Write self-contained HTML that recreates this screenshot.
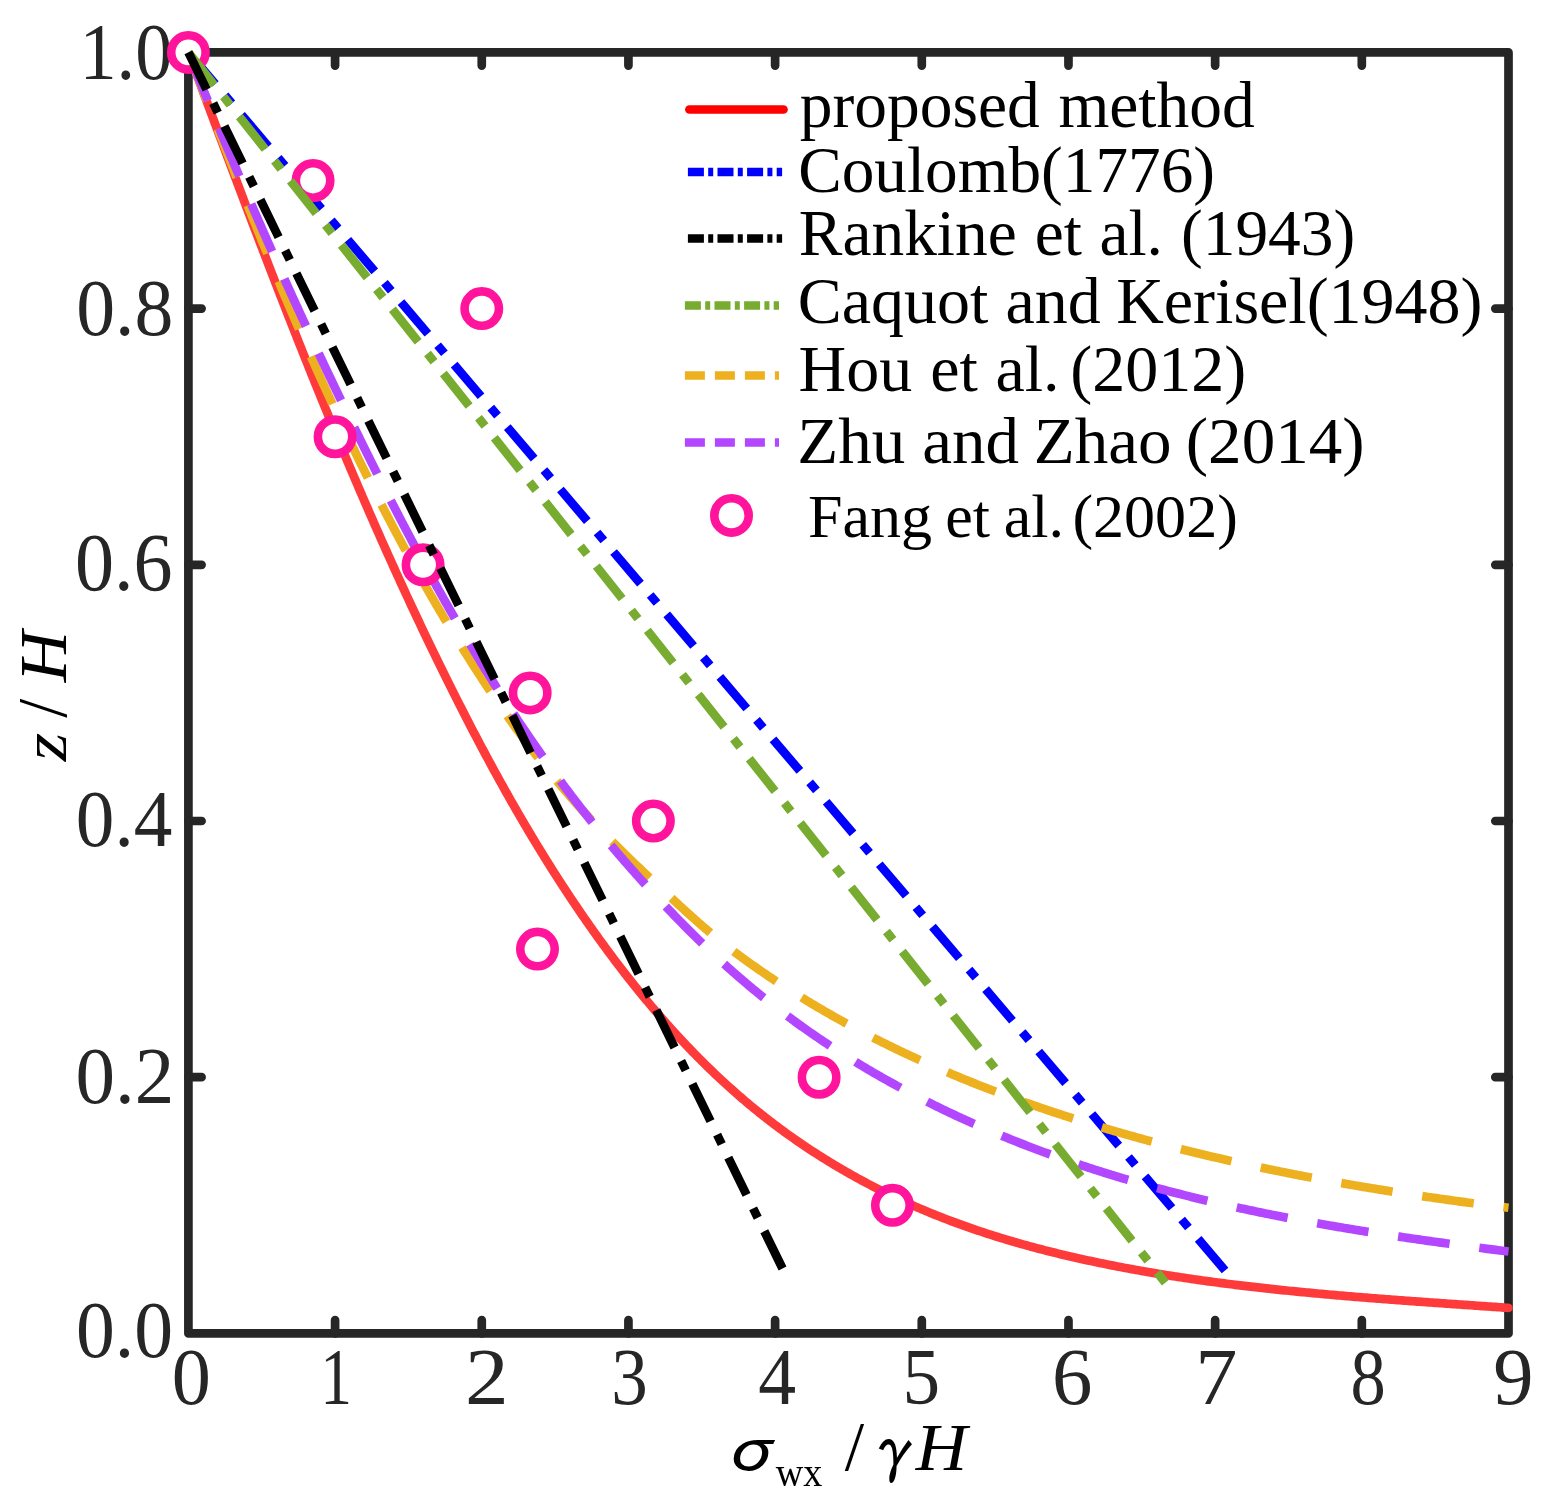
<!DOCTYPE html><html><head><meta charset="utf-8"><title>plot</title><style>html,body{margin:0;padding:0;background:#fff;}svg{display:block;}</style></head><body>
<svg width="1554" height="1510" viewBox="0 0 1554 1510">
<rect width="100%" height="100%" fill="#fff"/>
<g fill="none" stroke="#262626" stroke-width="8.7" stroke-linecap="round" stroke-linejoin="round">
<rect x="188.4" y="52.4" width="1320.1" height="1281.0"/>
<path d="M335.08 1333.40V1320.20M335.08 52.40V65.60M481.76 1333.40V1320.20M481.76 52.40V65.60M628.43 1333.40V1320.20M628.43 52.40V65.60M775.11 1333.40V1320.20M775.11 52.40V65.60M921.79 1333.40V1320.20M921.79 52.40V65.60M1068.47 1333.40V1320.20M1068.47 52.40V65.60M1215.14 1333.40V1320.20M1215.14 52.40V65.60M1361.82 1333.40V1320.20M1361.82 52.40V65.60M188.40 1077.20H201.60M1508.50 1077.20H1495.30M188.40 821.00H201.60M1508.50 821.00H1495.30M188.40 564.80H201.60M1508.50 564.80H1495.30M188.40 308.60H201.60M1508.50 308.60H1495.30"/>
</g>
<text font-family="'Liberation Serif','Times New Roman',serif" font-size="78" fill="#262626" transform="translate(171.79 1404.00) scale(1.0030 1.0300)">0</text>
<text font-family="'Liberation Serif','Times New Roman',serif" font-size="78" fill="#262626" transform="translate(320.30 1404.00) scale(0.8145 1.0300)">1</text>
<text font-family="'Liberation Serif','Times New Roman',serif" font-size="78" fill="#262626" transform="translate(465.08 1404.00) scale(1.1200 1.0300)">2</text>
<text font-family="'Liberation Serif','Times New Roman',serif" font-size="78" fill="#262626" transform="translate(611.19 1404.00) scale(0.9364 1.0300)">3</text>
<text font-family="'Liberation Serif','Times New Roman',serif" font-size="78" fill="#262626" transform="translate(758.24 1404.00) scale(0.9710 1.0300)">4</text>
<text font-family="'Liberation Serif','Times New Roman',serif" font-size="78" fill="#262626" transform="translate(902.56 1404.00) scale(0.9651 1.0300)">5</text>
<text font-family="'Liberation Serif','Times New Roman',serif" font-size="78" fill="#262626" transform="translate(1051.93 1404.00) scale(1.0358 1.0300)">6</text>
<text font-family="'Liberation Serif','Times New Roman',serif" font-size="78" fill="#262626" transform="translate(1195.33 1404.00) scale(1.0794 1.0300)">7</text>
<text font-family="'Liberation Serif','Times New Roman',serif" font-size="78" fill="#262626" transform="translate(1350.39 1404.00) scale(0.9030 1.0300)">8</text>
<text font-family="'Liberation Serif','Times New Roman',serif" font-size="78" fill="#262626" transform="translate(1493.22 1404.00) scale(1.0316 1.0300)">9</text>
<text font-family="'Liberation Serif','Times New Roman',serif" font-size="78" fill="#262626" transform="translate(75.91 1356.97) scale(0.9956 1.0256)">0.0</text>
<text font-family="'Liberation Serif','Times New Roman',serif" font-size="78" fill="#262626" transform="translate(75.56 1103.38) scale(1.0139 1.0180)">0.2</text>
<text font-family="'Liberation Serif','Times New Roman',serif" font-size="78" fill="#262626" transform="translate(75.83 845.78) scale(0.9898 1.0237)">0.4</text>
<text font-family="'Liberation Serif','Times New Roman',serif" font-size="78" fill="#262626" transform="translate(75.00 590.14) scale(1.0016 1.0597)">0.6</text>
<text font-family="'Liberation Serif','Times New Roman',serif" font-size="78" fill="#262626" transform="translate(76.21 335.16) scale(0.9967 1.0389)">0.8</text>
<text font-family="'Liberation Serif','Times New Roman',serif" font-size="78" fill="#262626" transform="translate(79.47 78.88) scale(0.9527 1.0237)">1.0</text>
<text font-family="'IPAGothic','DejaVu Serif',serif" font-size="66" font-style="normal" fill="#000" transform="translate(713.24 1472.83) scale(1.1528 0.9147)">σ</text>
<text font-family="'Liberation Serif','Times New Roman',serif" font-size="40" font-style="normal" fill="#000" transform="translate(775.70 1485.71) scale(0.9546 0.9789)">wx</text>
<text font-family="'Liberation Serif','Times New Roman',serif" font-size="66" font-style="normal" fill="#000" transform="translate(844.70 1470.20) scale(1.0575 1.0689)">/</text>
<text font-family="'IPAGothic','DejaVu Serif',serif" font-size="66" font-style="normal" fill="#000" transform="translate(867.58 1477.27) scale(0.8462 1.0548)">γ</text>
<text font-family="'Liberation Serif','Times New Roman',serif" font-size="66" font-style="italic" fill="#000" transform="translate(915.71 1469.90) scale(1.0771 1.0173)">H</text>
<text font-family="'Liberation Serif','Times New Roman',serif" font-size="66" font-style="italic" fill="#000" transform="translate(66.10 761.17) rotate(-90) scale(1.1098 0.9686)">z</text>
<text font-family="'Liberation Serif','Times New Roman',serif" font-size="66" font-style="normal" fill="#000" transform="translate(66.30 717.80) rotate(-90) scale(1.0301 1.0667)">/</text>
<text font-family="'Liberation Serif','Times New Roman',serif" font-size="66" font-style="italic" fill="#000" transform="translate(66.10 682.29) rotate(-90) scale(1.0771 1.0220)">H</text>
<path d="M188.40 52.40L189.18 54.49L189.96 56.58L190.74 58.67L191.52 60.76L192.30 62.85L193.08 64.94L193.86 67.03L194.64 69.12L195.42 71.21L196.21 73.30L196.99 75.39L197.77 77.48L198.55 79.57L199.33 81.66L200.11 83.75L200.89 85.84L201.67 87.93L202.45 90.02L203.23 92.11L204.01 94.20L204.79 96.29L205.57 98.38L206.35 100.47L207.14 102.56L207.92 104.65L208.70 106.74L209.48 108.83L210.26 110.92L211.04 113.01L211.82 115.10L212.61 117.18L213.39 119.27L214.17 121.36L214.95 123.45L215.73 125.54L216.52 127.63L217.30 129.72L218.08 131.81L218.86 133.89L219.65 135.98L220.43 138.07L221.21 140.16L222.00 142.25L222.78 144.34L223.56 146.42L224.35 148.51L225.13 150.60L225.91 152.69L226.70 154.77L227.48 156.86L228.27 158.95L229.05 161.04L229.84 163.12L230.62 165.21L231.41 167.30L232.20 169.38L232.98 171.47L233.77 173.56L234.55 175.64L235.34 177.73L236.13 179.81L236.92 181.90L237.70 183.99L238.49 186.07L239.28 188.16L240.07 190.24L240.86 192.33L241.65 194.41L242.44 196.50L243.22 198.58L244.01 200.67L244.80 202.75L245.60 204.84L246.39 206.92L247.18 209.01L247.97 211.09L248.76 213.17L249.55 215.26L250.34 217.34L251.14 219.42L251.93 221.51L252.72 223.59L253.52 225.67L254.31 227.76L255.11 229.84L255.90 231.92L256.70 234.00L257.49 236.08L258.29 238.17L259.08 240.25L259.88 242.33L260.68 244.41L261.48 246.49L262.27 248.57L263.07 250.65L263.87 252.73L264.67 254.81L265.47 256.89L266.27 258.97L267.07 261.05L267.87 263.13L268.67 265.21L269.47 267.29L270.28 269.37L271.08 271.45L271.88 273.53L272.69 275.60L273.49 277.68L274.30 279.76L275.10 281.84L275.91 283.92L276.71 285.99L277.52 288.07L278.33 290.15L279.13 292.22L279.94 294.30L280.75 296.38L281.56 298.45L282.37 300.53L283.18 302.60L283.99 304.68L284.80 306.75L285.61 308.83L286.43 310.90L287.24 312.97L288.05 315.05L288.87 317.12L289.68 319.19L290.50 321.27L291.31 323.34L292.13 325.41L292.95 327.49L293.76 329.56L294.58 331.63L295.40 333.70L296.22 335.77L297.04 337.84L297.86 339.91L298.68 341.98L299.50 344.05L300.33 346.12L301.15 348.19L301.97 350.26L302.80 352.33L303.62 354.40L304.45 356.47L305.27 358.54L306.10 360.61L306.93 362.67L307.76 364.74L308.59 366.81L309.42 368.87L310.25 370.94L311.08 373.01L311.91 375.07L312.74 377.14L313.58 379.20L314.41 381.27L315.24 383.33L316.08 385.40L316.92 387.46L317.75 389.52L318.59 391.59L319.43 393.65L320.27 395.71L321.11 397.77L321.95 399.84L322.79 401.90L323.63 403.96L324.48 406.02L325.32 408.08L326.16 410.14L327.01 412.20L327.86 414.26L328.70 416.32L329.55 418.38L330.40 420.44L331.25 422.50L332.10 424.55L332.95 426.61L333.80 428.67L334.65 430.73L335.51 432.78L336.36 434.84L337.22 436.89L338.07 438.95L338.93 441.00L339.79 443.06L340.64 445.11L341.50 447.17L342.36 449.22L343.22 451.27L344.09 453.33L344.95 455.38L345.81 457.43L346.68 459.48L347.54 461.53L348.41 463.59L349.28 465.64L350.15 467.69L351.01 469.74L351.89 471.78L352.76 473.83L353.63 475.88L354.50 477.93L355.37 479.98L356.25 482.03L357.13 484.07L358.00 486.12L358.88 488.17L359.76 490.21L360.64 492.26L361.52 494.30L362.40 496.35L363.28 498.39L364.17 500.43L365.05 502.48L365.94 504.52L366.82 506.56L367.71 508.60L368.60 510.65L369.49 512.69L370.38 514.73L371.27 516.77L372.16 518.81L373.06 520.85L373.95 522.89L374.85 524.92L375.75 526.96L376.64 529.00L377.54 531.04L378.44 533.07L379.34 535.11L380.25 537.15L381.15 539.18L382.05 541.22L382.96 543.25L383.87 545.28L384.77 547.32L385.68 549.35L386.59 551.38L387.50 553.42L388.42 555.45L389.33 557.48L390.24 559.51L391.16 561.54L392.08 563.57L392.99 565.60L393.91 567.63L394.83 569.65L395.75 571.68L396.68 573.71L397.60 575.74L398.52 577.76L399.45 579.79L400.38 581.81L401.31 583.84L402.24 585.86L403.17 587.89L404.10 589.91L405.03 591.93L405.97 593.96L406.90 595.98L407.84 598.00L408.78 600.02L409.72 602.04L410.66 604.06L411.60 606.08L412.54 608.10L413.48 610.12L414.43 612.13L415.38 614.15L416.32 616.17L417.27 618.18L418.22 620.20L419.18 622.21L420.13 624.23L421.08 626.24L422.04 628.26L423.00 630.27L423.95 632.28L424.91 634.29L425.88 636.31L426.84 638.32L427.80 640.33L428.77 642.34L429.73 644.34L430.70 646.35L431.67 648.36L432.64 650.37L433.61 652.38L434.58 654.38L435.56 656.39L436.53 658.39L437.51 660.40L438.49 662.40L439.47 664.40L440.45 666.41L441.43 668.41L442.42 670.41L443.40 672.41L444.39 674.41L445.38 676.41L446.37 678.41L447.36 680.41L448.35 682.41L449.34 684.41L450.34 686.40L451.34 688.40L452.33 690.40L453.33 692.39L454.33 694.39L455.34 696.38L456.34 698.37L457.35 700.37L458.35 702.36L459.36 704.35L460.37 706.34L461.39 708.33L462.40 710.32L463.42 712.30L464.43 714.29L465.45 716.28L466.47 718.26L467.49 720.25L468.52 722.23L469.54 724.21L470.57 726.20L471.60 728.18L472.63 730.16L473.66 732.14L474.70 734.12L475.73 736.09L476.77 738.07L477.81 740.05L478.85 742.02L479.90 744.00L480.94 745.97L481.99 747.94L483.04 749.91L484.09 751.88L485.14 753.85L486.20 755.82L487.25 757.79L488.31 759.75L489.37 761.72L490.43 763.68L491.50 765.64L492.57 767.61L493.63 769.57L494.71 771.53L495.78 773.48L496.85 775.44L497.93 777.40L499.01 779.35L500.09 781.31L501.17 783.26L502.26 785.21L503.35 787.16L504.44 789.11L505.53 791.06L506.62 793.00L507.72 794.95L508.82 796.89L509.92 798.83L511.02 800.78L512.13 802.71L513.23 804.65L514.34 806.59L515.46 808.53L516.57 810.46L517.69 812.39L518.81 814.33L519.93 816.26L521.05 818.19L522.18 820.11L523.31 822.04L524.44 823.96L525.57 825.89L526.71 827.81L527.84 829.73L528.99 831.65L530.13 833.57L531.27 835.48L532.42 837.40L533.57 839.31L534.73 841.22L535.88 843.13L537.04 845.04L538.20 846.94L539.37 848.85L540.53 850.75L541.70 852.65L542.87 854.55L544.05 856.45L545.22 858.35L546.40 860.25L547.58 862.14L548.77 864.03L549.96 865.92L551.15 867.81L552.34 869.70L553.54 871.58L554.73 873.46L555.94 875.35L557.14 877.23L558.35 879.10L559.56 880.98L560.77 882.85L561.98 884.73L563.20 886.60L564.42 888.47L565.65 890.33L566.88 892.20L568.11 894.06L569.34 895.92L570.57 897.78L571.81 899.64L573.05 901.50L574.30 903.35L575.55 905.20L576.80 907.05L578.05 908.90L579.31 910.74L580.57 912.59L581.83 914.43L583.10 916.27L584.37 918.11L585.64 919.94L586.91 921.78L588.19 923.61L589.47 925.44L590.76 927.27L592.05 929.09L593.34 930.92L594.63 932.74L595.93 934.56L597.23 936.37L598.53 938.19L599.84 940.00L601.15 941.81L602.46 943.62L603.78 945.43L605.10 947.23L606.43 949.03L607.75 950.83L609.08 952.63L610.42 954.42L611.75 956.21L613.10 958.00L614.44 959.79L615.79 961.57L617.14 963.36L618.49 965.14L619.85 966.91L621.21 968.69L622.58 970.46L623.94 972.23L625.32 973.99L626.69 975.75L628.07 977.51L629.45 979.27L630.84 981.02L632.23 982.78L633.62 984.52L635.02 986.27L636.42 988.01L637.82 989.75L639.23 991.49L640.64 993.22L642.06 994.95L643.48 996.67L644.90 998.40L646.33 1000.12L647.76 1001.83L649.19 1003.55L650.63 1005.26L652.07 1006.96L653.51 1008.66L654.96 1010.36L656.41 1012.06L657.87 1013.75L659.33 1015.44L660.80 1017.12L662.26 1018.81L663.74 1020.48L665.21 1022.16L666.69 1023.83L668.18 1025.49L669.66 1027.15L671.16 1028.81L672.65 1030.47L674.15 1032.12L675.65 1033.76L677.16 1035.41L678.67 1037.04L680.19 1038.68L681.71 1040.31L683.23 1041.93L684.76 1043.55L686.29 1045.17L687.83 1046.79L689.37 1048.39L690.91 1050.00L692.46 1051.60L694.02 1053.19L695.57 1054.79L697.13 1056.37L698.70 1057.95L700.27 1059.53L701.84 1061.10L703.42 1062.67L705.00 1064.24L706.59 1065.80L708.18 1067.35L709.77 1068.90L711.37 1070.44L712.98 1071.98L714.59 1073.52L716.20 1075.05L717.82 1076.57L719.44 1078.09L721.06 1079.61L722.69 1081.12L724.33 1082.63L725.97 1084.13L727.61 1085.62L729.26 1087.11L730.91 1088.59L732.57 1090.07L734.23 1091.55L735.89 1093.02L737.56 1094.48L739.24 1095.94L740.92 1097.39L742.60 1098.84L744.29 1100.28L745.98 1101.72L747.68 1103.15L749.38 1104.57L751.09 1105.99L752.80 1107.40L754.52 1108.81L756.24 1110.21L757.97 1111.61L759.70 1113.00L761.43 1114.39L763.17 1115.76L764.92 1117.14L766.67 1118.50L768.42 1119.87L770.18 1121.22L771.94 1122.57L773.71 1123.91L775.48 1125.25L777.26 1126.58L779.04 1127.91L780.82 1129.23L782.61 1130.55L784.41 1131.85L786.21 1133.16L788.01 1134.45L789.82 1135.74L791.63 1137.03L793.45 1138.31L795.27 1139.58L797.09 1140.85L798.92 1142.11L800.76 1143.36L802.59 1144.61L804.43 1145.85L806.28 1147.09L808.13 1148.32L809.98 1149.55L811.84 1150.77L813.70 1151.98L815.57 1153.19L817.44 1154.39L819.31 1155.58L821.19 1156.77L823.07 1157.95L824.96 1159.13L826.85 1160.30L828.74 1161.46L830.64 1162.62L832.54 1163.78L834.45 1164.92L836.36 1166.06L838.27 1167.20L840.18 1168.32L842.10 1169.45L844.03 1170.56L845.95 1171.67L847.89 1172.78L849.82 1173.87L851.76 1174.96L853.70 1176.05L855.64 1177.13L857.59 1178.20L859.54 1179.27L861.50 1180.33L863.46 1181.38L865.42 1182.43L867.38 1183.47L869.35 1184.51L871.33 1185.54L873.30 1186.56L875.28 1187.58L877.26 1188.59L879.25 1189.60L881.24 1190.60L883.23 1191.59L885.22 1192.57L887.22 1193.55L889.22 1194.53L891.22 1195.50L893.23 1196.46L895.24 1197.41L897.25 1198.36L899.27 1199.30L901.29 1200.24L903.31 1201.17L905.34 1202.09L907.36 1203.01L909.40 1203.92L911.43 1204.83L913.47 1205.72L915.50 1206.62L917.55 1207.50L919.59 1208.38L921.64 1209.25L923.69 1210.12L925.74 1210.98L927.80 1211.84L929.85 1212.68L931.92 1213.53L933.98 1214.36L936.04 1215.19L938.11 1216.01L940.18 1216.83L942.26 1217.64L944.33 1218.45L946.41 1219.25L948.49 1220.04L950.57 1220.83L952.66 1221.61L954.75 1222.39L956.84 1223.16L958.93 1223.92L961.02 1224.68L963.12 1225.43L965.22 1226.18L967.32 1226.92L969.43 1227.66L971.53 1228.39L973.64 1229.11L975.75 1229.83L977.86 1230.54L979.97 1231.25L982.09 1231.95L984.21 1232.65L986.33 1233.34L988.45 1234.03L990.57 1234.71L992.70 1235.39L994.83 1236.06L996.96 1236.72L999.09 1237.38L1001.22 1238.04L1003.36 1238.69L1005.49 1239.34L1007.63 1239.98L1009.77 1240.61L1011.92 1241.24L1014.06 1241.87L1016.20 1242.49L1018.35 1243.10L1020.50 1243.71L1022.65 1244.32L1024.80 1244.92L1026.95 1245.51L1029.11 1246.10L1031.27 1246.69L1033.42 1247.27L1035.58 1247.85L1037.74 1248.42L1039.90 1248.99L1042.07 1249.55L1044.23 1250.11L1046.40 1250.67L1048.56 1251.22L1050.73 1251.76L1052.90 1252.31L1055.07 1252.84L1057.25 1253.37L1059.42 1253.90L1061.59 1254.43L1063.77 1254.95L1065.95 1255.46L1068.12 1255.97L1070.30 1256.48L1072.48 1256.98L1074.66 1257.48L1076.84 1257.98L1079.03 1258.47L1081.21 1258.96L1083.40 1259.44L1085.58 1259.92L1087.77 1260.39L1089.95 1260.87L1092.14 1261.33L1094.33 1261.80L1096.52 1262.26L1098.71 1262.71L1100.90 1263.17L1103.09 1263.61L1105.29 1264.06L1107.48 1264.50L1109.67 1264.94L1111.87 1265.37L1114.06 1265.81L1116.26 1266.23L1118.45 1266.66L1120.65 1267.08L1122.85 1267.50L1125.04 1267.91L1127.24 1268.32L1129.44 1268.73L1131.64 1269.13L1133.84 1269.53L1136.04 1269.93L1138.24 1270.32L1140.44 1270.72L1142.64 1271.10L1144.84 1271.49L1147.04 1271.87L1149.24 1272.25L1151.45 1272.62L1153.65 1273.00L1155.85 1273.37L1158.06 1273.73L1160.26 1274.10L1162.46 1274.46L1164.67 1274.81L1166.87 1275.17L1169.08 1275.52L1171.29 1275.87L1173.49 1276.21L1175.70 1276.56L1177.91 1276.90L1180.11 1277.23L1182.32 1277.57L1184.53 1277.90L1186.74 1278.23L1188.95 1278.55L1191.16 1278.88L1193.37 1279.20L1195.58 1279.52L1197.79 1279.83L1200.00 1280.14L1202.21 1280.45L1204.42 1280.76L1206.63 1281.07L1208.84 1281.37L1211.05 1281.67L1213.27 1281.97L1215.48 1282.26L1217.69 1282.56L1219.90 1282.85L1222.12 1283.13L1224.33 1283.42L1226.55 1283.70L1228.76 1283.98L1230.97 1284.26L1233.19 1284.54L1235.40 1284.81L1237.62 1285.08L1239.83 1285.35L1242.05 1285.62L1244.27 1285.88L1246.48 1286.14L1248.70 1286.41L1250.92 1286.66L1253.13 1286.92L1255.35 1287.17L1257.57 1287.43L1259.78 1287.68L1262.00 1287.92L1264.22 1288.17L1266.44 1288.41L1268.66 1288.66L1270.87 1288.90L1273.09 1289.13L1275.31 1289.37L1277.53 1289.61L1279.75 1289.84L1281.97 1290.07L1284.19 1290.30L1286.41 1290.53L1288.63 1290.75L1290.85 1290.97L1293.07 1291.20L1295.29 1291.42L1297.51 1291.64L1299.73 1291.85L1301.95 1292.07L1304.17 1292.28L1306.39 1292.49L1308.61 1292.70L1310.83 1292.91L1313.05 1293.12L1315.27 1293.33L1317.49 1293.53L1319.72 1293.73L1321.94 1293.93L1324.16 1294.13L1326.38 1294.33L1328.60 1294.53L1330.82 1294.73L1333.04 1294.92L1335.27 1295.11L1337.49 1295.31L1339.71 1295.50L1341.93 1295.69L1344.15 1295.87L1346.38 1296.06L1348.60 1296.25L1350.82 1296.43L1353.04 1296.62L1355.26 1296.80L1357.49 1296.98L1359.71 1297.16L1361.93 1297.34L1364.15 1297.52L1366.38 1297.69L1368.60 1297.87L1370.82 1298.05L1373.04 1298.22L1375.26 1298.39L1377.49 1298.57L1379.71 1298.74L1381.93 1298.91L1384.15 1299.08L1386.37 1299.25L1388.60 1299.41L1390.82 1299.58L1393.04 1299.75L1395.26 1299.91L1397.48 1300.08L1399.70 1300.24L1401.93 1300.41L1404.15 1300.57L1406.37 1300.73L1408.59 1300.90L1410.81 1301.06L1413.03 1301.22L1415.25 1301.38L1417.48 1301.54L1419.70 1301.70L1421.92 1301.86L1424.14 1302.01L1426.36 1302.17L1428.58 1302.33L1430.80 1302.49L1433.02 1302.64L1435.24 1302.80L1437.46 1302.95L1439.68 1303.11L1441.90 1303.27L1444.12 1303.42L1446.34 1303.58L1448.56 1303.73L1450.78 1303.88L1452.99 1304.04L1455.21 1304.19L1457.43 1304.35L1459.65 1304.50L1461.87 1304.65L1464.09 1304.81L1466.30 1304.96L1468.52 1305.12L1470.74 1305.27L1472.96 1305.42L1475.17 1305.58L1477.39 1305.73L1479.61 1305.88L1481.82 1306.04L1484.04 1306.19L1486.25 1306.35L1488.47 1306.50L1490.69 1306.65L1492.90 1306.81L1495.12 1306.96L1497.33 1307.12L1499.54 1307.28L1501.76 1307.43L1503.97 1307.59L1506.19 1307.74L1508.40 1307.90" fill="none" stroke="#ff3a3a" stroke-width="8.7" stroke-linecap="round" stroke-linejoin="round"/>
<path d="M188.40 52.40L1229.28 1275.43" fill="none" stroke="#0000ff" stroke-width="8.7" stroke-linecap="butt" stroke-linejoin="round" stroke-dasharray="41.5 15 10.5 15"/>
<path d="M188.40 52.40L189.15 54.36L189.90 56.33L190.65 58.29L191.40 60.25L192.15 62.22L192.90 64.18L193.65 66.15L194.40 68.11L195.15 70.07L195.90 72.04L196.65 74.00L197.40 75.96L198.15 77.93L198.90 79.89L199.65 81.86L200.40 83.82L201.16 85.78L201.91 87.75L202.66 89.71L203.41 91.67L204.17 93.64L204.92 95.60L205.67 97.57L206.43 99.53L207.18 101.49L207.94 103.46L208.69 105.42L209.45 107.38L210.20 109.35L210.96 111.31L211.71 113.27L212.47 115.24L213.23 117.20L213.98 119.16L214.74 121.12L215.50 123.09L216.26 125.05L217.02 127.01L217.78 128.97L218.54 130.94L219.30 132.90L220.06 134.86L220.82 136.82L221.58 138.79L222.34 140.75L223.10 142.71L223.87 144.67L224.63 146.63L225.39 148.59L226.16 150.55L226.92 152.52L227.69 154.48L228.45 156.44L229.22 158.40L229.98 160.36L230.75 162.32L231.52 164.28L232.29 166.24L233.06 168.20L233.82 170.16L234.59 172.12L235.36 174.08L236.13 176.03L236.91 177.99L237.68 179.95L238.45 181.91L239.22 183.87L240.00 185.83L240.77 187.78L241.55 189.74L242.32 191.70L243.10 193.66L243.87 195.61L244.65 197.57L245.43 199.53L246.21 201.48L246.99 203.44L247.77 205.39L248.55 207.35L249.33 209.30L250.11 211.26L250.89 213.21L251.68 215.17L252.46 217.12L253.24 219.07L254.03 221.03L254.81 222.98L255.60 224.93L256.39 226.89L257.18 228.84L257.97 230.79L258.76 232.74L259.55 234.69L260.34 236.65L261.13 238.60L261.92 240.55L262.71 242.50L263.51 244.45L264.30 246.40L265.10 248.35L265.90 250.29L266.69 252.24L267.49 254.19L268.29 256.14L269.09 258.09L269.89 260.03L270.69 261.98L271.50 263.93L272.30 265.87L273.10 267.82L273.91 269.76L274.71 271.71L275.52 273.65L276.33 275.60L277.14 277.54L277.95 279.48L278.76 281.43L279.57 283.37L280.38 285.31L281.19 287.25L282.01 289.19L282.82 291.13L283.64 293.07L284.45 295.01L285.27 296.95L286.09 298.89L286.91 300.83L287.73 302.77L288.55 304.71L289.37 306.64L290.20 308.58L291.02 310.52L291.85 312.45L292.68 314.39L293.50 316.32L294.33 318.26L295.16 320.19L295.99 322.13L296.82 324.06L297.66 325.99L298.49 327.92L299.33 329.86L300.16 331.79L301.00 333.72L301.84 335.65L302.68 337.58L303.52 339.51L304.36 341.43L305.20 343.36L306.05 345.29L306.89 347.22L307.74 349.14L308.58 351.07L309.43 352.99L310.28 354.92L311.13 356.84L311.98 358.77L312.84 360.69L313.69 362.61L314.55 364.54L315.40 366.46L316.26 368.38L317.12 370.30L317.98 372.22L318.84 374.14L319.70 376.06L320.57 377.97L321.43 379.89L322.30 381.81L323.17 383.72L324.04 385.64L324.91 387.55L325.78 389.47L326.65 391.38L327.52 393.29L328.40 395.21L329.28 397.12L330.15 399.03L331.03 400.94L331.91 402.85L332.80 404.76L333.68 406.67L334.56 408.58L335.45 410.48L336.34 412.39L337.22 414.30L338.11 416.20L339.01 418.11L339.90 420.01L340.79 421.91L341.69 423.82L342.58 425.72L343.48 427.62L344.38 429.52L345.28 431.42L346.19 433.32L347.09 435.22L347.99 437.11L348.90 439.01L349.81 440.91L350.72 442.80L351.63 444.70L352.54 446.59L353.46 448.48L354.37 450.38L355.29 452.27L356.21 454.16L357.13 456.05L358.05 457.94L358.97 459.83L359.90 461.72L360.82 463.60L361.75 465.49L362.68 467.38L363.61 469.26L364.54 471.15L365.48 473.03L366.41 474.91L367.35 476.79L368.29 478.67L369.23 480.55L370.17 482.43L371.11 484.31L372.06 486.19L373.00 488.07L373.95 489.94L374.90 491.82L375.85 493.69L376.81 495.57L377.76 497.44L378.72 499.31L379.67 501.18L380.63 503.05L381.59 504.92L382.56 506.79L383.52 508.66L384.49 510.53L385.46 512.39L386.43 514.26L387.40 516.12L388.37 517.98L389.35 519.85L390.32 521.71L391.30 523.57L392.28 525.43L393.26 527.29L394.25 529.15L395.23 531.00L396.22 532.86L397.21 534.71L398.20 536.57L399.19 538.42L400.18 540.27L401.18 542.13L402.18 543.98L403.18 545.83L404.18 547.68L405.18 549.52L406.19 551.37L407.19 553.22L408.20 555.06L409.21 556.90L410.23 558.75L411.24 560.59L412.26 562.43L413.27 564.27L414.29 566.11L415.32 567.95L416.34 569.79L417.37 571.62L418.39 573.46L419.42 575.29L420.45 577.12L421.49 578.96L422.52 580.79L423.56 582.62L424.60 584.45L425.64 586.28L426.68 588.10L427.73 589.93L428.78 591.75L429.82 593.58L430.88 595.40L431.93 597.22L432.98 599.04L434.04 600.86L435.10 602.68L436.16 604.50L437.22 606.32L438.29 608.13L439.36 609.95L440.42 611.76L441.50 613.57L442.57 615.38L443.64 617.19L444.72 619.00L445.80 620.81L446.88 622.62L447.97 624.42L449.05 626.23L450.14 628.03L451.23 629.83L452.32 631.64L453.42 633.44L454.51 635.23L455.61 637.03L456.71 638.83L457.82 640.62L458.92 642.42L460.03 644.21L461.14 646.00L462.25 647.79L463.37 649.58L464.48 651.37L465.60 653.15L466.72 654.94L467.85 656.72L468.97 658.50L470.10 660.28L471.23 662.06L472.37 663.84L473.50 665.61L474.64 667.38L475.78 669.16L476.93 670.93L478.07 672.70L479.22 674.46L480.37 676.23L481.52 677.99L482.68 679.76L483.84 681.52L485.00 683.28L486.16 685.04L487.33 686.79L488.50 688.55L489.67 690.30L490.84 692.05L492.02 693.80L493.20 695.54L494.38 697.29L495.56 699.03L496.75 700.77L497.94 702.51L499.13 704.25L500.33 705.99L501.53 707.72L502.73 709.45L503.93 711.18L505.14 712.91L506.35 714.64L507.56 716.36L508.77 718.08L509.99 719.80L511.21 721.52L512.44 723.23L513.66 724.95L514.89 726.66L516.12 728.36L517.36 730.07L518.60 731.77L519.84 733.47L521.08 735.17L522.33 736.86L523.58 738.56L524.83 740.24L526.09 741.93L527.35 743.61L528.61 745.29L529.88 746.97L531.15 748.64L532.42 750.31L533.69 751.97L534.97 753.63L536.25 755.29L537.54 756.95L538.83 758.60L540.12 760.25L541.41 761.89L542.71 763.53L544.01 765.16L545.31 766.80L546.62 768.43L547.93 770.05L549.24 771.67L550.56 773.29L551.88 774.90L553.21 776.52L554.53 778.12L555.87 779.73L557.20 781.33L558.54 782.93L559.88 784.52L561.23 786.12L562.58 787.70L563.93 789.29L565.29 790.87L566.65 792.45L568.01 794.03L569.38 795.60L570.75 797.18L572.13 798.74L573.51 800.31L574.89 801.87L576.28 803.43L577.67 804.99L579.06 806.54L580.46 808.10L581.86 809.65L583.27 811.19L584.68 812.74L586.10 814.28L587.52 815.82L588.94 817.36L590.37 818.89L591.80 820.43L593.24 821.96L594.68 823.49L596.12 825.01L597.57 826.54L599.03 828.06L600.48 829.58L601.95 831.10L603.41 832.62L604.88 834.13L606.36 835.65L607.84 837.16L609.32 838.67L610.81 840.17L612.31 841.68L613.80 843.19L615.31 844.69L616.81 846.19L618.32 847.69L619.84 849.19L621.36 850.68L622.88 852.18L624.40 853.67L625.93 855.16L627.46 856.65L629.00 858.13L630.53 859.62L632.07 861.10L633.61 862.58L635.15 864.06L636.70 865.54L638.24 867.01L639.79 868.48L641.34 869.95L642.89 871.42L644.44 872.88L645.99 874.35L647.54 875.81L649.09 877.26L650.65 878.72L652.20 880.17L653.75 881.62L655.30 883.07L656.85 884.51L658.40 885.96L659.95 887.40L661.49 888.83L663.04 890.27L664.58 891.70L666.12 893.13L667.66 894.55L669.20 895.98L670.73 897.40L672.27 898.81L673.80 900.23L675.32 901.64L676.85 903.05L678.37 904.45L679.90 905.85L681.42 907.25L682.95 908.65L684.47 910.04L685.99 911.43L687.52 912.82L689.05 914.20L690.58 915.58L692.11 916.95L693.64 918.32L695.18 919.69L696.72 921.06L698.27 922.42L699.82 923.78L701.37 925.13L702.93 926.48L704.50 927.83L706.07 929.17L707.65 930.51L709.23 931.85L710.83 933.18L712.43 934.51L714.03 935.83L715.65 937.15L717.27 938.47L718.90 939.78L720.53 941.09L722.17 942.39L723.82 943.70L725.47 944.99L727.13 946.28L728.80 947.57L730.47 948.86L732.14 950.14L733.83 951.42L735.51 952.69L737.21 953.96L738.91 955.22L740.61 956.48L742.32 957.74L744.03 958.99L745.75 960.24L747.47 961.48L749.19 962.72L750.92 963.96L752.66 965.19L754.40 966.42L756.14 967.64L757.88 968.86L759.63 970.07L761.38 971.28L763.14 972.49L764.89 973.69L766.66 974.89L768.42 976.08L770.19 977.27L771.95 978.45L773.73 979.63L775.50 980.81L777.27 981.98L779.05 983.15L780.83 984.31L782.61 985.47L784.39 986.62L786.18 987.77L787.97 988.92L789.75 990.06L791.54 991.19L793.34 992.33L795.13 993.45L796.93 994.58L798.73 995.70L800.53 996.81L802.33 997.92L804.13 999.03L805.94 1000.13L807.74 1001.23L809.55 1002.32L811.36 1003.41L813.18 1004.50L814.99 1005.58L816.81 1006.66L818.62 1007.73L820.44 1008.80L822.27 1009.86L824.09 1010.93L825.91 1011.98L827.74 1013.04L829.57 1014.08L831.40 1015.13L833.23 1016.17L835.07 1017.21L836.90 1018.24L838.74 1019.27L840.58 1020.29L842.42 1021.31L844.26 1022.33L846.11 1023.34L847.95 1024.35L849.80 1025.36L851.65 1026.36L853.50 1027.35L855.35 1028.35L857.21 1029.34L859.06 1030.32L860.92 1031.30L862.78 1032.28L864.64 1033.26L866.50 1034.23L868.37 1035.19L870.23 1036.16L872.10 1037.11L873.97 1038.07L875.84 1039.02L877.71 1039.97L879.59 1040.91L881.46 1041.85L883.34 1042.79L885.22 1043.72L887.10 1044.65L888.98 1045.58L890.86 1046.50L892.75 1047.42L894.63 1048.33L896.52 1049.25L898.41 1050.15L900.30 1051.06L902.19 1051.96L904.09 1052.85L905.98 1053.75L907.88 1054.64L909.78 1055.52L911.68 1056.41L913.58 1057.29L915.48 1058.16L917.39 1059.03L919.29 1059.90L921.20 1060.77L923.11 1061.63L925.02 1062.49L926.93 1063.34L928.84 1064.20L930.76 1065.05L932.67 1065.89L934.59 1066.73L936.51 1067.57L938.43 1068.41L940.35 1069.24L942.27 1070.07L944.20 1070.89L946.12 1071.71L948.05 1072.53L949.98 1073.35L951.91 1074.16L953.84 1074.97L955.77 1075.77L957.70 1076.58L959.64 1077.38L961.58 1078.17L963.51 1078.97L965.45 1079.76L967.39 1080.54L969.33 1081.33L971.28 1082.11L973.22 1082.88L975.17 1083.66L977.11 1084.43L979.06 1085.20L981.01 1085.96L982.96 1086.72L984.91 1087.48L986.87 1088.24L988.82 1088.99L990.78 1089.74L992.73 1090.49L994.69 1091.23L996.65 1091.97L998.61 1092.71L1000.57 1093.45L1002.54 1094.18L1004.50 1094.91L1006.46 1095.63L1008.43 1096.36L1010.40 1097.08L1012.37 1097.79L1014.34 1098.51L1016.31 1099.22L1018.28 1099.93L1020.25 1100.64L1022.23 1101.34L1024.20 1102.04L1026.18 1102.74L1028.16 1103.44L1030.14 1104.13L1032.12 1104.82L1034.10 1105.51L1036.08 1106.20L1038.06 1106.88L1040.05 1107.56L1042.03 1108.24L1044.02 1108.92L1046.01 1109.59L1048.00 1110.26L1049.99 1110.93L1051.98 1111.59L1053.97 1112.26L1055.96 1112.92L1057.96 1113.58L1059.95 1114.23L1061.95 1114.89L1063.94 1115.54L1065.94 1116.18L1067.94 1116.83L1069.94 1117.47L1071.94 1118.11L1073.94 1118.75L1075.95 1119.39L1077.95 1120.02L1079.96 1120.65L1081.96 1121.28L1083.97 1121.91L1085.98 1122.53L1087.98 1123.15L1089.99 1123.77L1092.00 1124.39L1094.02 1125.00L1096.03 1125.61L1098.04 1126.22L1100.06 1126.83L1102.07 1127.43L1104.09 1128.03L1106.10 1128.63L1108.12 1129.23L1110.14 1129.83L1112.16 1130.42L1114.18 1131.01L1116.20 1131.60L1118.22 1132.18L1120.24 1132.76L1122.27 1133.34L1124.29 1133.92L1126.32 1134.50L1128.34 1135.07L1130.37 1135.64L1132.40 1136.21L1134.43 1136.78L1136.46 1137.34L1138.49 1137.91L1140.52 1138.47L1142.55 1139.02L1144.58 1139.58L1146.61 1140.13L1148.65 1140.68L1150.68 1141.23L1152.72 1141.78L1154.75 1142.32L1156.79 1142.86L1158.83 1143.40L1160.87 1143.94L1162.90 1144.47L1164.94 1145.01L1166.98 1145.54L1169.03 1146.07L1171.07 1146.59L1173.11 1147.12L1175.15 1147.64L1177.20 1148.16L1179.24 1148.68L1181.29 1149.19L1183.33 1149.71L1185.38 1150.22L1187.42 1150.73L1189.47 1151.23L1191.52 1151.74L1193.57 1152.24L1195.62 1152.74L1197.67 1153.24L1199.72 1153.74L1201.77 1154.23L1203.82 1154.72L1205.87 1155.21L1207.93 1155.70L1209.98 1156.19L1212.03 1156.67L1214.09 1157.15L1216.14 1157.63L1218.20 1158.11L1220.26 1158.58L1222.31 1159.06L1224.37 1159.53L1226.43 1160.00L1228.49 1160.47L1230.55 1160.93L1232.60 1161.40L1234.66 1161.86L1236.72 1162.32L1238.79 1162.78L1240.85 1163.23L1242.91 1163.69L1244.97 1164.14L1247.03 1164.59L1249.10 1165.03L1251.16 1165.48L1253.22 1165.92L1255.29 1166.37L1257.35 1166.81L1259.42 1167.24L1261.48 1167.68L1263.55 1168.12L1265.62 1168.55L1267.68 1168.98L1269.75 1169.41L1271.82 1169.83L1273.89 1170.26L1275.96 1170.68L1278.02 1171.10L1280.09 1171.52L1282.16 1171.94L1284.23 1172.35L1286.30 1172.77L1288.37 1173.18L1290.44 1173.59L1292.52 1174.00L1294.59 1174.41L1296.66 1174.81L1298.73 1175.21L1300.80 1175.61L1302.88 1176.01L1304.95 1176.41L1307.02 1176.81L1309.10 1177.20L1311.17 1177.59L1313.24 1177.98L1315.32 1178.37L1317.39 1178.76L1319.47 1179.14L1321.54 1179.53L1323.62 1179.91L1325.69 1180.29L1327.77 1180.67L1329.85 1181.04L1331.92 1181.42L1334.00 1181.79L1336.07 1182.16L1338.15 1182.53L1340.23 1182.90L1342.31 1183.27L1344.38 1183.63L1346.46 1184.00L1348.54 1184.36L1350.62 1184.72L1352.69 1185.08L1354.77 1185.43L1356.85 1185.79L1358.93 1186.14L1361.01 1186.49L1363.08 1186.84L1365.16 1187.19L1367.24 1187.54L1369.32 1187.88L1371.40 1188.23L1373.48 1188.57L1375.56 1188.91L1377.64 1189.25L1379.72 1189.59L1381.80 1189.92L1383.87 1190.26L1385.95 1190.59L1388.03 1190.92L1390.11 1191.25L1392.19 1191.58L1394.27 1191.91L1396.35 1192.23L1398.43 1192.56L1400.51 1192.88L1402.59 1193.20L1404.67 1193.52L1406.75 1193.84L1408.83 1194.15L1410.91 1194.47L1412.99 1194.78L1415.07 1195.09L1417.15 1195.40L1419.23 1195.71L1421.30 1196.02L1423.38 1196.33L1425.46 1196.63L1427.54 1196.94L1429.62 1197.24L1431.70 1197.54L1433.78 1197.84L1435.86 1198.14L1437.94 1198.43L1440.01 1198.73L1442.09 1199.02L1444.17 1199.31L1446.25 1199.60L1448.33 1199.89L1450.40 1200.18L1452.48 1200.47L1454.56 1200.75L1456.64 1201.04L1458.71 1201.32L1460.79 1201.60L1462.87 1201.88L1464.94 1202.16L1467.02 1202.44L1469.10 1202.72L1471.17 1202.99L1473.25 1203.27L1475.32 1203.54L1477.40 1203.81L1479.47 1204.08L1481.55 1204.35L1483.62 1204.62L1485.70 1204.88L1487.77 1205.15L1489.85 1205.41L1491.92 1205.68L1493.99 1205.94L1496.07 1206.20L1498.14 1206.46L1500.21 1206.71L1502.28 1206.97L1504.36 1207.23L1506.43 1207.48L1508.50 1207.73" fill="none" stroke="#edb120" stroke-width="8.7" stroke-linecap="butt" stroke-linejoin="round" stroke-dasharray="52 30"/>
<path d="M188.40 52.40L189.18 54.37L189.96 56.34L190.75 58.31L191.53 60.28L192.32 62.25L193.10 64.22L193.89 66.19L194.68 68.17L195.47 70.14L196.26 72.11L197.05 74.08L197.84 76.05L198.63 78.02L199.43 79.99L200.22 81.96L201.01 83.93L201.81 85.89L202.61 87.86L203.41 89.83L204.20 91.80L205.00 93.77L205.80 95.74L206.61 97.71L207.41 99.68L208.21 101.65L209.01 103.62L209.82 105.58L210.63 107.55L211.43 109.52L212.24 111.49L213.05 113.46L213.86 115.42L214.67 117.39L215.48 119.36L216.29 121.33L217.10 123.29L217.92 125.26L218.73 127.23L219.55 129.19L220.36 131.16L221.18 133.13L222.00 135.09L222.82 137.06L223.64 139.02L224.46 140.99L225.28 142.96L226.10 144.92L226.92 146.89L227.75 148.85L228.57 150.82L229.40 152.78L230.22 154.74L231.05 156.71L231.88 158.67L232.71 160.64L233.54 162.60L234.37 164.56L235.20 166.53L236.03 168.49L236.87 170.45L237.70 172.42L238.53 174.38L239.37 176.34L240.21 178.30L241.04 180.26L241.88 182.22L242.72 184.19L243.56 186.15L244.40 188.11L245.24 190.07L246.09 192.03L246.93 193.99L247.77 195.95L248.62 197.91L249.47 199.87L250.31 201.83L251.16 203.79L252.01 205.74L252.86 207.70L253.71 209.66L254.56 211.62L255.41 213.58L256.26 215.53L257.11 217.49L257.97 219.45L258.82 221.40L259.68 223.36L260.54 225.32L261.39 227.27L262.25 229.23L263.11 231.18L263.97 233.14L264.83 235.09L265.69 237.05L266.55 239.00L267.42 240.95L268.28 242.91L269.15 244.86L270.01 246.81L270.88 248.76L271.74 250.72L272.61 252.67L273.48 254.62L274.35 256.57L275.22 258.52L276.09 260.47L276.96 262.42L277.84 264.37L278.71 266.32L279.58 268.27L280.46 270.22L281.33 272.17L282.21 274.12L283.09 276.06L283.97 278.01L284.84 279.96L285.72 281.91L286.60 283.85L287.49 285.80L288.37 287.74L289.25 289.69L290.13 291.63L291.02 293.58L291.90 295.52L292.79 297.47L293.68 299.41L294.56 301.35L295.45 303.30L296.34 305.24L297.23 307.18L298.12 309.12L299.01 311.06L299.91 313.00L300.80 314.94L301.69 316.88L302.59 318.82L303.48 320.76L304.38 322.70L305.27 324.64L306.17 326.58L307.07 328.52L307.97 330.45L308.87 332.39L309.77 334.33L310.67 336.26L311.57 338.20L312.48 340.13L313.38 342.07L314.28 344.00L315.19 345.94L316.09 347.87L317.00 349.80L317.91 351.73L318.82 353.67L319.73 355.60L320.64 357.53L321.55 359.46L322.46 361.39L323.37 363.32L324.28 365.25L325.19 367.18L326.11 369.11L327.02 371.03L327.94 372.96L328.85 374.89L329.77 376.82L330.69 378.74L331.61 380.67L332.53 382.59L333.45 384.52L334.37 386.44L335.29 388.36L336.21 390.29L337.13 392.21L338.06 394.13L338.98 396.05L339.91 397.98L340.83 399.90L341.76 401.82L342.69 403.74L343.61 405.65L344.54 407.57L345.47 409.49L346.40 411.41L347.33 413.33L348.26 415.24L349.20 417.16L350.13 419.07L351.06 420.99L352.00 422.90L352.93 424.82L353.87 426.73L354.80 428.64L355.74 430.56L356.68 432.47L357.62 434.38L358.56 436.29L359.50 438.20L360.44 440.11L361.38 442.02L362.32 443.93L363.27 445.84L364.21 447.74L365.15 449.65L366.10 451.56L367.05 453.46L367.99 455.37L368.94 457.27L369.89 459.17L370.84 461.08L371.79 462.98L372.74 464.88L373.70 466.78L374.65 468.68L375.61 470.59L376.56 472.49L377.52 474.38L378.47 476.28L379.43 478.18L380.39 480.08L381.35 481.97L382.31 483.87L383.28 485.77L384.24 487.66L385.21 489.56L386.17 491.45L387.14 493.34L388.11 495.23L389.07 497.13L390.04 499.02L391.02 500.91L391.99 502.80L392.96 504.69L393.94 506.58L394.91 508.46L395.89 510.35L396.87 512.24L397.85 514.12L398.83 516.01L399.81 517.89L400.79 519.78L401.78 521.66L402.76 523.54L403.75 525.43L404.74 527.31L405.73 529.19L406.72 531.07L407.71 532.95L408.70 534.83L409.70 536.70L410.70 538.58L411.69 540.46L412.69 542.33L413.69 544.21L414.69 546.08L415.70 547.96L416.70 549.83L417.71 551.70L418.72 553.57L419.73 555.45L420.74 557.32L421.75 559.19L422.76 561.05L423.78 562.92L424.79 564.79L425.81 566.66L426.83 568.52L427.85 570.39L428.87 572.25L429.90 574.12L430.92 575.98L431.95 577.84L432.98 579.70L434.01 581.57L435.05 583.43L436.08 585.28L437.11 587.14L438.15 589.00L439.19 590.86L440.23 592.72L441.28 594.57L442.32 596.43L443.37 598.28L444.41 600.13L445.46 601.99L446.51 603.84L447.57 605.69L448.62 607.54L449.68 609.39L450.74 611.24L451.80 613.08L452.86 614.93L453.92 616.78L454.99 618.62L456.06 620.47L457.13 622.31L458.20 624.16L459.27 626.00L460.35 627.84L461.42 629.68L462.50 631.52L463.58 633.36L464.67 635.20L465.75 637.03L466.84 638.87L467.93 640.70L469.02 642.54L470.11 644.37L471.21 646.20L472.30 648.03L473.40 649.86L474.50 651.69L475.61 653.52L476.71 655.35L477.82 657.17L478.93 659.00L480.04 660.82L481.15 662.65L482.26 664.47L483.38 666.29L484.50 668.11L485.62 669.92L486.74 671.74L487.87 673.56L489.00 675.37L490.12 677.18L491.26 678.99L492.39 680.80L493.53 682.61L494.66 684.42L495.80 686.23L496.94 688.03L498.09 689.84L499.24 691.64L500.38 693.44L501.53 695.24L502.69 697.04L503.84 698.84L505.00 700.63L506.16 702.42L507.32 704.22L508.48 706.01L509.65 707.80L510.82 709.59L511.99 711.37L513.16 713.16L514.34 714.94L515.51 716.72L516.69 718.50L517.87 720.28L519.06 722.06L520.24 723.83L521.43 725.61L522.62 727.38L523.81 729.15L525.01 730.92L526.21 732.69L527.41 734.45L528.61 736.22L529.81 737.98L531.02 739.74L532.23 741.50L533.44 743.26L534.66 745.01L535.87 746.76L537.09 748.52L538.31 750.26L539.53 752.01L540.76 753.76L541.99 755.50L543.22 757.24L544.45 758.98L545.69 760.72L546.93 762.46L548.17 764.19L549.41 765.93L550.65 767.66L551.90 769.39L553.15 771.11L554.40 772.84L555.66 774.56L556.92 776.28L558.18 778.00L559.44 779.71L560.70 781.43L561.97 783.14L563.24 784.85L564.51 786.56L565.79 788.26L567.07 789.97L568.35 791.67L569.63 793.37L570.92 795.07L572.20 796.76L573.49 798.45L574.79 800.14L576.08 801.83L577.38 803.52L578.68 805.20L579.98 806.88L581.29 808.56L582.60 810.24L583.91 811.91L585.22 813.58L586.54 815.25L587.86 816.92L589.18 818.59L590.51 820.25L591.83 821.91L593.16 823.57L594.50 825.22L595.83 826.87L597.17 828.52L598.51 830.17L599.85 831.82L601.20 833.46L602.55 835.10L603.90 836.74L605.25 838.37L606.61 840.01L607.97 841.64L609.33 843.27L610.69 844.90L612.06 846.52L613.43 848.14L614.80 849.76L616.18 851.38L617.56 852.99L618.94 854.61L620.32 856.22L621.71 857.83L623.09 859.43L624.49 861.04L625.88 862.64L627.27 864.24L628.67 865.84L630.08 867.44L631.48 869.03L632.89 870.62L634.30 872.21L635.71 873.80L637.12 875.38L638.54 876.97L639.96 878.55L641.38 880.13L642.81 881.70L644.23 883.28L645.66 884.85L647.10 886.42L648.53 887.99L649.97 889.56L651.41 891.13L652.85 892.69L654.30 894.25L655.75 895.81L657.20 897.37L658.65 898.92L660.11 900.48L661.57 902.03L663.03 903.58L664.49 905.13L665.96 906.67L667.43 908.22L668.90 909.76L670.37 911.30L671.85 912.84L673.33 914.38L674.81 915.91L676.29 917.45L677.78 918.98L679.27 920.50L680.76 922.03L682.26 923.55L683.76 925.08L685.26 926.59L686.76 928.11L688.27 929.63L689.78 931.14L691.29 932.65L692.80 934.15L694.32 935.66L695.84 937.16L697.37 938.66L698.89 940.15L700.42 941.64L701.95 943.13L703.49 944.62L705.03 946.10L706.57 947.58L708.11 949.06L709.66 950.53L711.21 952.00L712.76 953.47L714.32 954.93L715.88 956.39L717.44 957.85L719.01 959.30L720.58 960.75L722.15 962.19L723.73 963.63L725.31 965.06L726.89 966.49L728.48 967.92L730.07 969.34L731.67 970.76L733.26 972.17L734.87 973.58L736.47 974.98L738.08 976.38L739.69 977.78L741.31 979.17L742.92 980.55L744.55 981.93L746.17 983.31L747.80 984.68L749.43 986.05L751.07 987.42L752.71 988.78L754.35 990.13L755.99 991.48L757.64 992.83L759.30 994.17L760.95 995.51L762.61 996.84L764.27 998.17L765.94 999.50L767.60 1000.82L769.28 1002.14L770.95 1003.45L772.63 1004.76L774.31 1006.06L775.99 1007.36L777.68 1008.65L779.37 1009.94L781.06 1011.23L782.76 1012.51L784.46 1013.79L786.16 1015.07L787.87 1016.34L789.58 1017.60L791.29 1018.86L793.00 1020.12L794.72 1021.37L796.44 1022.62L798.17 1023.86L799.89 1025.10L801.62 1026.34L803.35 1027.57L805.09 1028.80L806.83 1030.02L808.57 1031.24L810.31 1032.46L812.06 1033.67L813.81 1034.87L815.56 1036.08L817.32 1037.27L819.08 1038.47L820.84 1039.66L822.60 1040.84L824.37 1042.03L826.14 1043.20L827.91 1044.38L829.69 1045.55L831.47 1046.71L833.25 1047.87L835.03 1049.03L836.82 1050.18L838.60 1051.33L840.39 1052.48L842.19 1053.62L843.99 1054.75L845.78 1055.89L847.59 1057.01L849.39 1058.14L851.20 1059.26L853.01 1060.37L854.82 1061.49L856.63 1062.59L858.45 1063.70L860.27 1064.80L862.09 1065.90L863.92 1066.99L865.75 1068.08L867.58 1069.16L869.41 1070.24L871.24 1071.32L873.08 1072.39L874.92 1073.46L876.76 1074.52L878.60 1075.58L880.45 1076.64L882.30 1077.69L884.15 1078.74L886.01 1079.78L887.86 1080.82L889.72 1081.86L891.58 1082.89L893.44 1083.92L895.31 1084.94L897.18 1085.96L899.05 1086.98L900.92 1087.99L902.79 1089.00L904.67 1090.01L906.55 1091.01L908.43 1092.01L910.31 1093.00L912.20 1093.99L914.08 1094.97L915.97 1095.96L917.86 1096.93L919.76 1097.91L921.65 1098.88L923.55 1099.84L925.45 1100.81L927.35 1101.77L929.26 1102.72L931.16 1103.67L933.07 1104.62L934.98 1105.56L936.89 1106.50L938.81 1107.44L940.72 1108.37L942.64 1109.30L944.56 1110.22L946.48 1111.14L948.40 1112.06L950.33 1112.97L952.26 1113.88L954.19 1114.79L956.12 1115.69L958.05 1116.59L959.99 1117.48L961.92 1118.37L963.86 1119.26L965.80 1120.14L967.74 1121.02L969.69 1121.90L971.63 1122.77L973.58 1123.64L975.53 1124.50L977.48 1125.36L979.43 1126.22L981.38 1127.07L983.34 1127.92L985.30 1128.77L987.26 1129.61L989.22 1130.45L991.18 1131.28L993.14 1132.11L995.11 1132.94L997.08 1133.77L999.04 1134.59L1001.01 1135.40L1002.99 1136.22L1004.96 1137.03L1006.93 1137.83L1008.91 1138.63L1010.89 1139.43L1012.87 1140.23L1014.85 1141.02L1016.83 1141.81L1018.81 1142.59L1020.80 1143.37L1022.79 1144.15L1024.77 1144.92L1026.76 1145.69L1028.75 1146.46L1030.74 1147.22L1032.74 1147.98L1034.73 1148.74L1036.73 1149.49L1038.73 1150.24L1040.72 1150.98L1042.72 1151.72L1044.73 1152.46L1046.73 1153.19L1048.73 1153.93L1050.74 1154.65L1052.74 1155.38L1054.75 1156.10L1056.76 1156.81L1058.77 1157.53L1060.78 1158.24L1062.79 1158.94L1064.80 1159.65L1066.82 1160.35L1068.83 1161.04L1070.85 1161.74L1072.87 1162.43L1074.89 1163.11L1076.91 1163.79L1078.93 1164.47L1080.95 1165.15L1082.97 1165.82L1084.99 1166.49L1087.02 1167.15L1089.05 1167.82L1091.07 1168.47L1093.10 1169.13L1095.13 1169.78L1097.16 1170.43L1099.19 1171.08L1101.22 1171.72L1103.25 1172.36L1105.29 1172.99L1107.32 1173.62L1109.36 1174.25L1111.39 1174.88L1113.43 1175.50L1115.47 1176.12L1117.51 1176.74L1119.55 1177.35L1121.59 1177.96L1123.63 1178.57L1125.68 1179.17L1127.72 1179.77L1129.76 1180.37L1131.81 1180.96L1133.86 1181.55L1135.90 1182.14L1137.95 1182.73L1140.00 1183.31L1142.05 1183.89L1144.10 1184.46L1146.15 1185.04L1148.21 1185.61L1150.26 1186.17L1152.31 1186.74L1154.37 1187.30L1156.42 1187.86L1158.48 1188.41L1160.54 1188.96L1162.60 1189.51L1164.65 1190.06L1166.71 1190.60L1168.77 1191.15L1170.84 1191.68L1172.90 1192.22L1174.96 1192.75L1177.02 1193.28L1179.09 1193.81L1181.15 1194.33L1183.22 1194.86L1185.29 1195.37L1187.35 1195.89L1189.42 1196.40L1191.49 1196.92L1193.56 1197.42L1195.63 1197.93L1197.70 1198.43L1199.77 1198.93L1201.84 1199.43L1203.92 1199.93L1205.99 1200.42L1208.06 1200.91L1210.14 1201.40L1212.21 1201.88L1214.29 1202.36L1216.37 1202.84L1218.44 1203.32L1220.52 1203.80L1222.60 1204.27L1224.68 1204.74L1226.76 1205.21L1228.84 1205.67L1230.92 1206.13L1233.00 1206.59L1235.08 1207.05L1237.17 1207.51L1239.25 1207.96L1241.33 1208.41L1243.42 1208.86L1245.50 1209.31L1247.59 1209.75L1249.67 1210.19L1251.76 1210.63L1253.85 1211.07L1255.93 1211.50L1258.02 1211.94L1260.11 1212.37L1262.20 1212.79L1264.29 1213.22L1266.38 1213.64L1268.47 1214.07L1270.56 1214.49L1272.65 1214.90L1274.75 1215.32L1276.84 1215.73L1278.93 1216.14L1281.03 1216.55L1283.12 1216.96L1285.21 1217.36L1287.31 1217.77L1289.40 1218.17L1291.50 1218.57L1293.59 1218.96L1295.69 1219.36L1297.79 1219.75L1299.89 1220.14L1301.98 1220.53L1304.08 1220.92L1306.18 1221.30L1308.28 1221.69L1310.38 1222.07L1312.48 1222.45L1314.58 1222.83L1316.68 1223.20L1318.78 1223.58L1320.88 1223.95L1322.98 1224.32L1325.08 1224.69L1327.18 1225.05L1329.29 1225.42L1331.39 1225.78L1333.49 1226.15L1335.59 1226.51L1337.70 1226.86L1339.80 1227.22L1341.91 1227.58L1344.01 1227.93L1346.11 1228.28L1348.22 1228.63L1350.32 1228.98L1352.43 1229.33L1354.54 1229.67L1356.64 1230.02L1358.75 1230.36L1360.85 1230.70L1362.96 1231.04L1365.07 1231.37L1367.17 1231.71L1369.28 1232.05L1371.39 1232.38L1373.50 1232.71L1375.60 1233.04L1377.71 1233.37L1379.82 1233.70L1381.93 1234.02L1384.04 1234.35L1386.14 1234.67L1388.25 1234.99L1390.36 1235.31L1392.47 1235.63L1394.58 1235.95L1396.69 1236.27L1398.80 1236.58L1400.91 1236.90L1403.02 1237.21L1405.13 1237.52L1407.24 1237.83L1409.35 1238.14L1411.46 1238.45L1413.57 1238.75L1415.68 1239.06L1417.79 1239.36L1419.90 1239.67L1422.01 1239.97L1424.12 1240.27L1426.23 1240.57L1428.34 1240.87L1430.45 1241.17L1432.56 1241.46L1434.67 1241.76L1436.78 1242.05L1438.89 1242.34L1441.00 1242.64L1443.11 1242.93L1445.22 1243.22L1447.33 1243.51L1449.44 1243.80L1451.55 1244.08L1453.66 1244.37L1455.77 1244.66L1457.88 1244.94L1459.99 1245.23L1462.10 1245.51L1464.21 1245.79L1466.32 1246.07L1468.43 1246.35L1470.54 1246.63L1472.65 1246.91L1474.76 1247.19L1476.87 1247.47L1478.98 1247.74L1481.09 1248.02L1483.20 1248.29L1485.31 1248.57L1487.42 1248.84L1489.53 1249.12L1491.64 1249.39L1493.74 1249.66L1495.85 1249.93L1497.96 1250.20L1500.07 1250.47L1502.18 1250.74L1504.28 1251.01L1506.39 1251.28L1508.50 1251.54" fill="none" stroke="#b347ff" stroke-width="8.7" stroke-linecap="butt" stroke-linejoin="round" stroke-dasharray="52 30"/>
<circle cx="188.40" cy="52.40" r="17.2" fill="#fff" stroke="#ff149b" stroke-width="8.6"/>
<circle cx="313.08" cy="180.50" r="17.2" fill="#fff" stroke="#ff149b" stroke-width="8.6"/>
<circle cx="481.76" cy="308.60" r="17.2" fill="#fff" stroke="#ff149b" stroke-width="8.6"/>
<circle cx="335.08" cy="436.70" r="17.2" fill="#fff" stroke="#ff149b" stroke-width="8.6"/>
<circle cx="423.08" cy="564.80" r="17.2" fill="#fff" stroke="#ff149b" stroke-width="8.6"/>
<circle cx="530.16" cy="692.90" r="17.2" fill="#fff" stroke="#ff149b" stroke-width="8.6"/>
<circle cx="653.37" cy="821.00" r="17.2" fill="#fff" stroke="#ff149b" stroke-width="8.6"/>
<circle cx="537.49" cy="949.10" r="17.2" fill="#fff" stroke="#ff149b" stroke-width="8.6"/>
<circle cx="819.11" cy="1077.20" r="17.2" fill="#fff" stroke="#ff149b" stroke-width="8.6"/>
<circle cx="892.45" cy="1205.30" r="17.2" fill="#fff" stroke="#ff149b" stroke-width="8.6"/>
<path d="M188.40 52.40L1165.31 1282.72" fill="none" stroke="#77ac30" stroke-width="8.7" stroke-linecap="butt" stroke-linejoin="round" stroke-dasharray="41.5 15 10.5 15"/>
<path d="M188.40 52.40L783.00 1269.50" fill="none" stroke="#000000" stroke-width="8.7" stroke-linecap="butt" stroke-linejoin="round" stroke-dasharray="41.5 15 10.5 15"/>
<path d="M689.4 109.5H783.5" stroke="#ff0000" stroke-width="8.7" stroke-linecap="round" fill="none"/>
<path d="M687.9 172H782.1" stroke="#0000ff" stroke-width="8.7" stroke-dasharray="16 4.3 5 4.3" fill="none"/>
<path d="M687.9 238.5H782.1" stroke="#000000" stroke-width="8.7" stroke-dasharray="16 4.3 5 4.3" fill="none"/>
<path d="M684.9 305.5H779" stroke="#77ac30" stroke-width="8.7" stroke-dasharray="16 4.3 5 4.3" fill="none"/>
<path d="M684.9 375.5H779" stroke="#edb120" stroke-width="8.7" stroke-dasharray="20 10" fill="none"/>
<path d="M684.9 442.5H779" stroke="#b347ff" stroke-width="8.7" stroke-dasharray="20 10" fill="none"/>
<circle cx="731.5" cy="515.4" r="17.2" fill="#fff" stroke="#ff149b" stroke-width="8.6"/>
<text font-family="'Liberation Serif','Times New Roman',serif" font-size="66" fill="#000" transform="translate(0 127.00) scale(0.9915 1)"><tspan x="806.65">proposed</tspan> <tspan x="1067.47">method</tspan></text>
<text font-family="'Liberation Serif','Times New Roman',serif" font-size="66" fill="#000" transform="translate(0 191.80) scale(0.9889 1)"><tspan x="807.11">Coulomb(1776)</tspan></text>
<text font-family="'Liberation Serif','Times New Roman',serif" font-size="66" fill="#000" transform="translate(0 255.00) scale(0.9908 1)"><tspan x="806.25">Rankine</tspan> <tspan x="1044.45">et</tspan> <tspan x="1109.60">al.</tspan> <tspan x="1191.92">(1943)</tspan></text>
<text font-family="'Liberation Serif','Times New Roman',serif" font-size="66" fill="#000" transform="translate(0 323.40) scale(0.9991 1)"><tspan x="798.60">Caquot</tspan> <tspan x="1006.49">and</tspan> <tspan x="1117.25">Kerisel(1948)</tspan></text>
<text font-family="'Liberation Serif','Times New Roman',serif" font-size="66" fill="#000" transform="translate(0 391.20) scale(1.0009 1)"><tspan x="797.87">Hou</tspan> <tspan x="929.45">et</tspan> <tspan x="994.54">al.</tspan> <tspan x="1069.22">(2012)</tspan></text>
<text font-family="'Liberation Serif','Times New Roman',serif" font-size="66" fill="#000" transform="translate(0 463.00) scale(1.0166 1)"><tspan x="784.28">Zhu</tspan> <tspan x="907.15">and</tspan> <tspan x="1016.92">Zhao</tspan> <tspan x="1166.39">(2014)</tspan></text>
<text font-family="'Liberation Serif','Times New Roman',serif" font-size="61" fill="#000" transform="translate(0 537.40) scale(1.0173 1)"><tspan x="794.20">Fang</tspan> <tspan x="929.11">et</tspan> <tspan x="986.77">al.</tspan> <tspan x="1054.19">(2002)</tspan></text>
</svg></body></html>
